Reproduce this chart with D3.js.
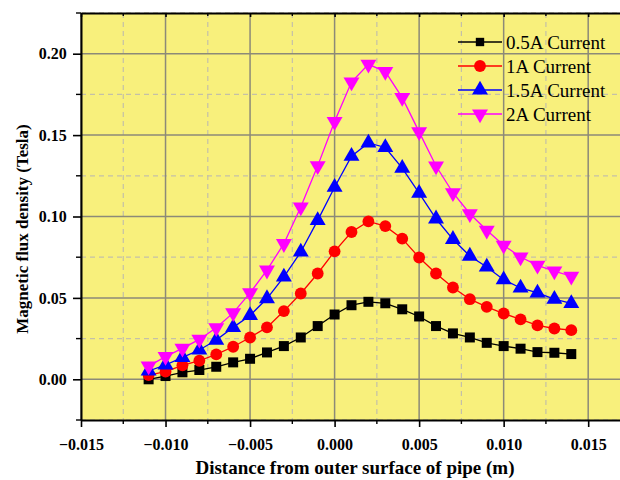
<!DOCTYPE html>
<html>
<head>
<meta charset="utf-8">
<script src="https://cdn.jsdelivr.net/npm/d3@7"></script>
<style>
  body { margin: 0; background: #fff; }
  svg { display: block; }
  .tick text { font-family: "Liberation Serif", "Times New Roman", serif; font-weight: bold; font-size: 16px; }
</style>
</head>
<body>
<div id="chart"></div>
<script>
// data
var x_vals = [-0.011, -0.010, -0.009, -0.008, -0.007, -0.006, -0.005, -0.004, -0.003, -0.002, -0.001,
  0.000, 0.001, 0.002, 0.003, 0.004, 0.005, 0.006, 0.007, 0.008, 0.009, 0.010, 0.011, 0.012, 0.013, 0.014];

var current_05 = [0.0000, 0.0020, 0.0043, 0.0057, 0.0077, 0.0104, 0.0126, 0.0165, 0.0204, 0.0257, 0.0327,
  0.0398, 0.0455, 0.0476, 0.0467, 0.0430, 0.0386, 0.0327, 0.0282, 0.0257, 0.0224, 0.0204, 0.0188, 0.0167, 0.0163, 0.0155];
var current_1 = [0.0026, 0.0047, 0.0086, 0.0114, 0.0153, 0.0200, 0.0257, 0.0319, 0.0419, 0.0527, 0.0650,
  0.0786, 0.0905, 0.0970, 0.0941, 0.0864, 0.0748, 0.0650, 0.0564, 0.0492, 0.0445, 0.0404, 0.0368, 0.0331, 0.0312, 0.0302];
var current_15 = [0.0051, 0.0088, 0.0135, 0.0180, 0.0241, 0.0319, 0.0392, 0.0496, 0.0629, 0.0782, 0.0976,
  0.1180, 0.1370, 0.1452, 0.1424, 0.1297, 0.1143, 0.0986, 0.0860, 0.0757, 0.0690, 0.0612, 0.0561, 0.0531, 0.0492, 0.0466];
var current_2 = [0.0081, 0.0139, 0.0190, 0.0245, 0.0316, 0.0408, 0.0531, 0.0670, 0.0833, 0.1058, 0.1311,
  0.1583, 0.1826, 0.1935, 0.1890, 0.1730, 0.1520, 0.1310, 0.1146, 0.1017, 0.0915, 0.0823, 0.0751, 0.0700, 0.0665, 0.0633];

var series_names = ['0.5A Current', '1A Current', '1.5A Current', '2A Current'];
var series_values = [current_05, current_1, current_15, current_2];
var series_colors = ['#000000', '#ff0000', '#0000ff', '#ff00ff'];
var series_symbols = [d3.symbolSquare, d3.symbolCircle, d3.symbolTriangle, d3.symbolTriangle];

var x_ticks = [-0.015, -0.010, -0.005, 0.000, 0.005, 0.010, 0.015];
var y_ticks = [0.00, 0.05, 0.10, 0.15, 0.20];

var width = 620, height = 480;
var margin = {top: 13, right: -2, bottom: 60, left: 81};
var plot_w = width - margin.left - margin.right;
var plot_h = height - margin.top - margin.bottom;

var x = d3.scaleLinear().domain([-0.015, 0.017]).range([0, plot_w]);
var y = d3.scaleLinear().domain([-0.025, 0.225]).range([plot_h, 0]);

var x_minor = d3.range(-0.0125, 0.017, 0.005);
var y_minor = d3.range(-0.025, 0.226, 0.05);

var serif = '"Liberation Serif", "Times New Roman", serif';

var svg = d3.select('#chart').append('svg')
  .attr('width', width)
  .attr('height', height);

var g = svg.append('g')
  .attr('transform', 'translate(' + margin.left + ',' + margin.top + ')');

g.append('rect')
  .attr('width', plot_w)
  .attr('height', plot_h)
  .attr('fill', '#f8f07c');

// minor dashed grid
g.selectAll('.xminor').data(x_minor).enter().append('line')
  .attr('x1', function(d){ return x(d); }).attr('x2', function(d){ return x(d); })
  .attr('y1', 0).attr('y2', plot_h)
  .attr('stroke', '#c4c0a8').attr('stroke-width', 1.2).attr('stroke-dasharray', '5,4');
g.selectAll('.yminor').data(y_minor).enter().append('line')
  .attr('y1', function(d){ return y(d); }).attr('y2', function(d){ return y(d); })
  .attr('x1', 0).attr('x2', plot_w)
  .attr('stroke', '#c4c0a8').attr('stroke-width', 1.2).attr('stroke-dasharray', '5,4');

// major solid grid
g.selectAll('.xmajor').data(x_ticks).enter().append('line')
  .attr('x1', function(d){ return x(d); }).attr('x2', function(d){ return x(d); })
  .attr('y1', 0).attr('y2', plot_h)
  .attr('stroke', '#8c8a78').attr('stroke-width', 1.5);
g.selectAll('.ymajor').data(y_ticks).enter().append('line')
  .attr('y1', function(d){ return y(d); }).attr('y2', function(d){ return y(d); })
  .attr('x1', 0).attr('x2', plot_w)
  .attr('stroke', '#8c8a78').attr('stroke-width', 1.5);

// axes
var x_axis = g.append('g')
  .attr('transform', 'translate(0,' + plot_h + ')')
  .call(d3.axisBottom(x).tickValues(x_ticks).tickFormat(d3.format('.3f')).tickSize(7).tickSizeOuter(0));
var y_axis = g.append('g')
  .call(d3.axisLeft(y).tickValues(y_ticks).tickFormat(d3.format('.2f')).tickSize(8).tickSizeOuter(0));
var top_axis = g.append('g')
  .call(d3.axisTop(x).tickValues(x_ticks).tickFormat('').tickSize(-4).tickSizeOuter(0));

[x_axis, y_axis, top_axis].forEach(function(a){
  a.selectAll('.domain').attr('stroke-width', 2);
  a.selectAll('.tick line').attr('stroke-width', 1.6);
});
x_axis.selectAll('.tick text').attr('dy', '1.25em').attr('fill', '#000');
y_axis.selectAll('.tick text').attr('dx', '-0.2em').attr('fill', '#000');

// minor ticks
g.selectAll('.xmt').data(x_minor).enter().append('line')
  .attr('x1', function(d){ return x(d); }).attr('x2', function(d){ return x(d); })
  .attr('y1', plot_h).attr('y2', plot_h + 4)
  .attr('stroke', '#000').attr('stroke-width', 1.4);
g.selectAll('.xmtt').data(x_minor).enter().append('line')
  .attr('x1', function(d){ return x(d); }).attr('x2', function(d){ return x(d); })
  .attr('y1', 0).attr('y2', 3)
  .attr('stroke', '#000').attr('stroke-width', 1.4);
g.selectAll('.ymt').data(y_minor).enter().append('line')
  .attr('y1', function(d){ return y(d); }).attr('y2', function(d){ return y(d); })
  .attr('x1', 0).attr('x2', -5)
  .attr('stroke', '#000').attr('stroke-width', 1.4);

// series
var line = d3.line()
  .x(function(d){ return x(d[0]); })
  .y(function(d){ return y(d[1]); });

series_values.forEach(function(vals, i){
  var pts = x_vals.map(function(xv, j){ return [xv, vals[j]]; });
  var col = series_colors[i];
  g.append('path')
    .datum(pts)
    .attr('d', line)
    .attr('fill', 'none')
    .attr('stroke', col)
    .attr('stroke-width', 1.3);

  var sym = d3.symbol().type(series_symbols[i]).size(i === 0 ? 100 : (i === 1 ? 110 : 110));
  g.selectAll('.m' + i).data(pts).enter().append('path')
    .attr('d', sym)
    .attr('fill', col)
    .attr('transform', function(d){
      var r = (i === 3) ? ' rotate(180)' : '';
      return 'translate(' + x(d[0]) + ',' + y(d[1]) + ')' + r;
    });
});

// legend
var legend = svg.append('g').attr('transform', 'translate(458,42)');
series_names.forEach(function(name, i){
  var row = legend.append('g').attr('transform', 'translate(0,' + (i * 24) + ')');
  row.append('line')
    .attr('x1', 0).attr('x2', 44).attr('y1', 0).attr('y2', 0)
    .attr('stroke', series_colors[i]).attr('stroke-width', 1.3);
  var sym = d3.symbol().type(series_symbols[i]).size(i === 0 ? 70 : 110);
  row.append('path')
    .attr('d', sym)
    .attr('fill', series_colors[i])
    .attr('transform', 'translate(22,0)' + (i === 3 ? ' rotate(180)' : ''));
  row.append('text')
    .attr('x', 48).attr('y', 6.5)
    .style('font-family', serif)
    .style('font-size', '19px')
    .text(name);
});

// axis titles
svg.append('text')
  .attr('x', 355)
  .attr('y', 474)
  .attr('text-anchor', 'middle')
  .style('font-family', serif)
  .style('font-weight', 'bold')
  .style('font-size', '19px')
  .text('Distance from outer surface of pipe (m)');

svg.append('text')
  .attr('transform', 'translate(28,229) rotate(-90)')
  .attr('text-anchor', 'middle')
  .style('font-family', serif)
  .style('font-weight', 'bold')
  .style('font-size', '17px')
  .text('Magnetic flux density (Tesla)');
</script>
</body>
</html>
